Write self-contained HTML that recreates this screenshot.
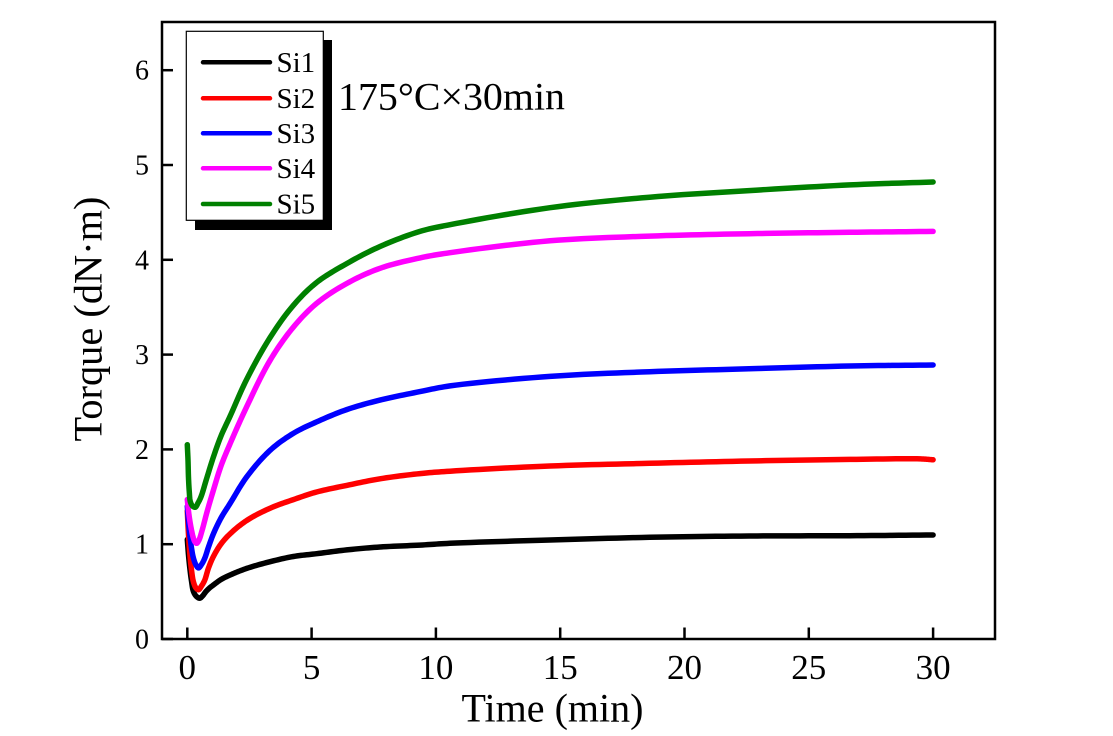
<!DOCTYPE html>
<html>
<head>
<meta charset="utf-8">
<style>
  html, body { margin:0; padding:0; background:#ffffff; }
  svg { display:block; }
  text { font-family: "Liberation Serif", "Times New Roman", serif; fill:#000; }
</style>
</head>
<body>
<svg width="1113" height="736" viewBox="0 0 1113 736" xmlns="http://www.w3.org/2000/svg">
  <rect x="0" y="0" width="1113" height="736" fill="#ffffff"/>

  <!-- Series -->
  <g fill="none" stroke-width="5.5" stroke-linejoin="round" stroke-linecap="round">
    <!-- Si1 black -->
    <polyline class="s" stroke="#000000" points="187.3,539.5 188.5,555 189.8,567.9 191.5,581 193.5,591.6 196.5,596.5 199.7,598.2 202.5,596 205.9,591.6 209.5,588 213.4,585 221,579.5 230.1,575 246.7,568.4 270.1,561.7 293.4,556.5 316.6,553.7 346.7,549.9 380,547 420,545.1 450,543.3 550,540 649.7,537.3 749.1,536 849.8,535.7 933.1,535"/>
    <!-- Si2 red -->
    <polyline class="s" stroke="#ff0000" points="187.3,511 188.5,535 189.8,553.7 191.5,570 193.5,582.1 196,588 198.5,589.7 201.5,586 204.7,580.2 208.5,568 213.4,556.5 221,544 230.1,533.8 246.7,520.5 270.1,508.2 293.4,499.6 316.6,492 346.7,485.4 380,478.8 420,473.6 450,471.2 550,466 649.7,463.3 749.1,461 849.8,459.4 920.7,458.9 933.1,459.8"/>
    <!-- Si3 blue -->
    <polyline class="s" stroke="#0000ff" points="187.3,506.3 188.5,522 189.8,534.7 191.5,548 193.5,558.4 196,565 198.5,567.9 201.5,564.5 204.7,558.4 208.5,547 213.4,533.8 221,518 230.1,503.4 246.7,476.9 270.1,450.3 293.4,433.3 316.6,421.9 346.7,409.6 380,400.1 420,391.6 450,385.9 550,376.4 649.7,371.7 749.1,368.8 849.8,366 933.1,365"/>
    <!-- Si4 magenta -->
    <polyline class="s" stroke="#ff00ff" points="187.3,499.6 188.5,511 189.8,520.5 191.5,530 193.5,538.5 195,542 196.7,543.3 199,540 202.2,530 207,512 213.4,490.2 221,466 230.1,443.7 246.7,406.7 270.1,360.3 293.4,327.1 316.6,303.4 346.7,283.5 380,268.3 420,257.9 450,252.7 550,240.8 649.7,236.1 749.1,233.7 849.8,232.3 933.1,231.4"/>
    <!-- Si5 green -->
    <polyline class="s" stroke="#008000" points="187.3,444.7 188,460 188.5,477.8 189.3,492 190.3,501.5 192.5,506 195.3,507.2 198,503 201,496.8 206.5,479 213.4,457 221,436 230.1,416.2 246.7,379.3 270.1,337.5 293.4,305.3 316.6,282.5 346.7,263.6 380,246.5 420,231.4 450,224.7 550,207.7 649.7,197.2 749.1,190.6 849.8,184.9 933.1,182"/>
  </g>

  <!-- Axes frame -->
  <rect x="162" y="22" width="833" height="617" fill="none" stroke="#000" stroke-width="2.5"/>

  <!-- X ticks -->
  <g stroke="#000" stroke-width="2.5">
    <line x1="187.3" y1="639" x2="187.3" y2="627.5"/>
    <line x1="311.6" y1="639" x2="311.6" y2="627.5"/>
    <line x1="435.9" y1="639" x2="435.9" y2="627.5"/>
    <line x1="560.2" y1="639" x2="560.2" y2="627.5"/>
    <line x1="684.5" y1="639" x2="684.5" y2="627.5"/>
    <line x1="808.8" y1="639" x2="808.8" y2="627.5"/>
    <line x1="933.1" y1="639" x2="933.1" y2="627.5"/>
  </g>
  <!-- Y ticks -->
  <g stroke="#000" stroke-width="2.5">
    <line x1="162" y1="639" x2="173" y2="639"/>
    <line x1="162" y1="544.2" x2="173" y2="544.2"/>
    <line x1="162" y1="449.4" x2="173" y2="449.4"/>
    <line x1="162" y1="354.6" x2="173" y2="354.6"/>
    <line x1="162" y1="259.8" x2="173" y2="259.8"/>
    <line x1="162" y1="165" x2="173" y2="165"/>
    <line x1="162" y1="70.2" x2="173" y2="70.2"/>
  </g>

  <!-- X tick labels -->
  <g font-size="35" text-anchor="middle">
    <text x="187.3" y="679">0</text>
    <text x="311.6" y="679">5</text>
    <text x="435.9" y="679">10</text>
    <text x="560.2" y="679">15</text>
    <text x="684.5" y="679">20</text>
    <text x="808.8" y="679">25</text>
    <text x="933.1" y="679">30</text>
  </g>
  <!-- Y tick labels -->
  <g font-size="28" text-anchor="end">
    <text x="149" y="648.5">0</text>
    <text x="149" y="553.7">1</text>
    <text x="149" y="458.9">2</text>
    <text x="149" y="364.1">3</text>
    <text x="149" y="269.3">4</text>
    <text x="149" y="174.5">5</text>
    <text x="149" y="79.7">6</text>
  </g>

  <!-- Axis titles -->
  <text x="552.5" y="721.7" font-size="40" text-anchor="middle" textLength="182" lengthAdjust="spacingAndGlyphs">Time (min)</text>
  <text transform="translate(101.7,319) rotate(-90)" font-size="40" text-anchor="middle" textLength="245" lengthAdjust="spacingAndGlyphs">Torque (dN·m)</text>

  <!-- Annotation -->
  <text x="338" y="109.3" font-size="39" textLength="227" lengthAdjust="spacingAndGlyphs">175°C×30min</text>

  <!-- Legend -->
  <rect x="195" y="40" width="137" height="190" fill="#000"/>
  <rect x="186.3" y="31.3" width="137" height="189" fill="#fff" stroke="#000" stroke-width="1.2"/>
  <g stroke-width="4.5" stroke-linecap="round">
    <line x1="203" y1="62.3" x2="270" y2="62.3" stroke="#000000"/>
    <line x1="203" y1="98.3" x2="270" y2="98.3" stroke="#ff0000"/>
    <line x1="203" y1="133.3" x2="270" y2="133.3" stroke="#0000ff"/>
    <line x1="203" y1="168.3" x2="270" y2="168.3" stroke="#ff00ff"/>
    <line x1="203" y1="204" x2="270" y2="204" stroke="#008000"/>
  </g>
  <g font-size="29">
    <text x="276.5" y="72">Si1</text>
    <text x="276.5" y="108">Si2</text>
    <text x="276.5" y="143">Si3</text>
    <text x="276.5" y="178">Si4</text>
    <text x="276.5" y="213.7">Si5</text>
  </g>
</svg>
<script>
(function(){
  function lerp(a,b,t){return [a[0]+(b[0]-a[0])*t, a[1]+(b[1]-a[1])*t];}
  var lines=document.querySelectorAll('polyline.s');
  for(var li=0;li<lines.length;li++){
    var pl=lines[li];
    var pts=pl.getAttribute('points').trim().split(/\s+/).map(function(p){return p.split(',').map(Number);});
    var n=pts.length, out=[];
    for(var i=0;i<n-1;i++){
      var p1=pts[i], p2=pts[i+1];
      var p0=i>0?pts[i-1]:[2*p1[0]-p2[0],2*p1[1]-p2[1]];
      var p3=i<n-2?pts[i+2]:[2*p2[0]-p1[0],2*p2[1]-p1[1]];
      var d=function(a,b){var v=Math.pow(Math.hypot(b[0]-a[0],b[1]-a[1]),0.5);return v<1e-4?1e-4:v;};
      var t0=0,t1=t0+d(p0,p1),t2=t1+d(p1,p2),t3=t2+d(p2,p3);
      var steps=12;
      for(var k=0;k<steps;k++){
        var t=t1+(t2-t1)*k/steps;
        var A1=lerp(p0,p1,(t-t0)/(t1-t0));
        var A2=lerp(p1,p2,(t-t1)/(t2-t1));
        var A3=lerp(p2,p3,(t-t2)/(t3-t2));
        var B1=lerp(A1,A2,(t-t0)/(t2-t0));
        var B2=lerp(A2,A3,(t-t1)/(t3-t1));
        var C=lerp(B1,B2,(t-t1)/(t2-t1));
        if(isFinite(C[0])&&isFinite(C[1])) out.push(C);
      }
    }
    out.push(pts[n-1]);
    pl.setAttribute('points',out.map(function(p){return p[0].toFixed(2)+','+p[1].toFixed(2);}).join(' '));
  }
})();
</script>
</body>
</html>
